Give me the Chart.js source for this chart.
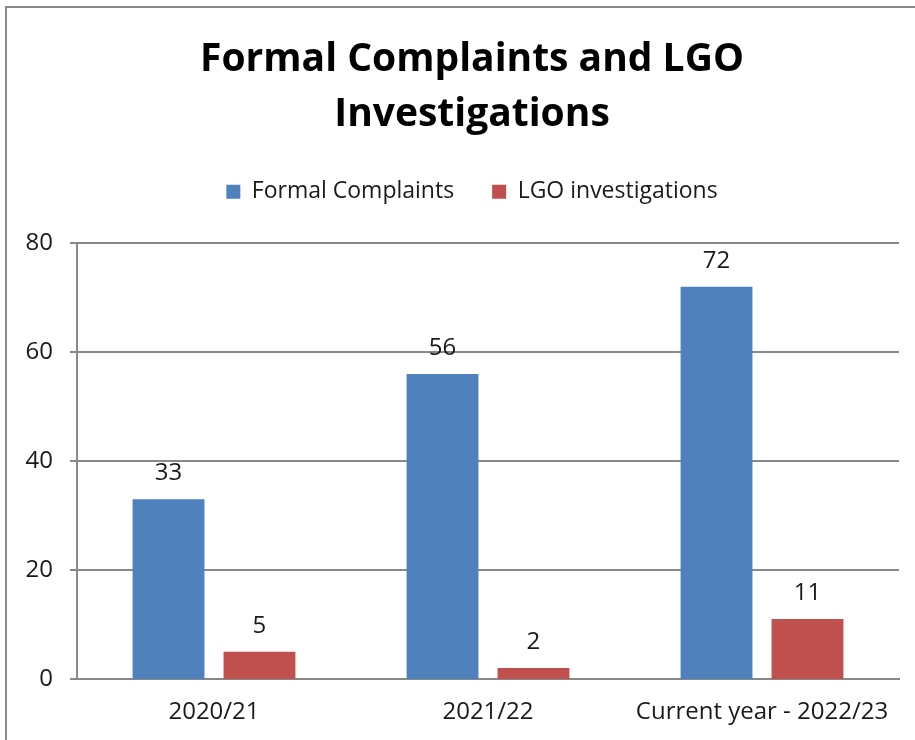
<!DOCTYPE html>
<html>
<head>
<meta charset="utf-8">
<title>Formal Complaints and LGO Investigations</title>
<script src="https://cdn.jsdelivr.net/npm/chart.js@4.4.0/dist/chart.umd.min.js"></script>
<style>
  html, body { margin: 0; padding: 0; background: #fff; overflow: hidden; }
  #frame {
    position: absolute; left: 5px; top: 6px; width: 1000px; height: 1000px;
    border: 2px solid #888; box-sizing: border-box;
  }
  /* canvas is a bit wider than the window so the title centres like the original */
  #chartBox { position: absolute; left: 0; top: 0; width: 944px; height: 740px; }
</style>
</head>
<body>
<div id="frame"></div>
<div id="chartBox"><canvas id="complaintsChart" width="944" height="740"></canvas></div>
<script>
"use strict";

const categories = ["2020/21", "2021/22", "Current year - 2022/23"];
const formalComplaints = [33, 56, 72];
const lgoInvestigations = [5, 2, 11];
const yTicks = [0, 20, 40, 60, 80];

const FONT = "'Open Sans', 'Noto Sans', sans-serif";
const GRID = "#888";
const TEXT = "#1a1a1a";

// value labels above bars
const barValues = {
  id: "barValues",
  afterDatasetsDraw(chart) {
    const ctx = chart.ctx;
    ctx.save();
    ctx.font = "24px " + FONT;
    ctx.fillStyle = TEXT;
    ctx.textAlign = "center";
    ctx.textBaseline = "middle";
    chart.data.datasets.forEach((ds, i) => {
      const meta = chart.getDatasetMeta(i);
      meta.data.forEach((bar, j) => {
        ctx.fillText(String(ds.data[j]), bar.x, bar.y - 26);
      });
    });
    ctx.restore();
  },
};

document.addEventListener("DOMContentLoaded", () => {
  const canvas = document.querySelector("canvas#complaintsChart");
  const chart = new Chart(canvas, {
    type: "bar",
    data: {
      labels: categories,
      datasets: [
        {
          label: "Formal Complaints",
          data: formalComplaints,
          backgroundColor: "#4F81BD",
        },
        {
          label: "LGO investigations",
          data: lgoInvestigations,
          backgroundColor: "#C0504D",
        },
      ],
    },
    options: {
      responsive: false,
      animation: false,
      categoryPercentage: 0.664,
      barPercentage: 0.79,
      layout: { padding: 0 },
      scales: {
        x: {
          grid: { display: false, drawTicks: false },
          border: { display: true, color: GRID, width: 2 },
          ticks: { color: TEXT, font: { family: FONT, size: 24 }, padding: 19, maxRotation: 0 },
          afterFit: (scale) => { scale.height = 61; },
        },
        // empty boxes: gap under the legend and room on the right
        spacerTop: {
          type: "category",
          position: "top",
          labels: categories,
          grid: { display: false, drawTicks: false },
          border: { display: false },
          ticks: { display: false },
          afterFit: (scale) => { scale.height = 30; },
        },
        spacerRight: {
          type: "linear",
          position: "right",
          grid: { display: false, drawTicks: false },
          border: { display: false },
          ticks: { display: false },
          afterFit: (scale) => { scale.width = 45; },
        },
        y: {
          min: yTicks[0],
          max: yTicks[yTicks.length - 1],
          afterBuildTicks: (scale) => { scale.ticks = yTicks.map((v) => ({ value: v })); },
          grid: { color: GRID, lineWidth: 2, tickLength: 7 },
          border: { display: true, color: GRID, width: 2 },
          ticks: { color: TEXT, font: { family: FONT, size: 24 }, padding: 17 },
          afterFit: (scale) => { scale.width = 77; },
        },
      },
      plugins: {
        title: {
          display: true,
          text: ["Formal Complaints and LGO", "Investigations"],
          color: "#000",
          font: { family: FONT, size: 39, weight: "bold", lineHeight: 1.4 },
          padding: { top: 33, bottom: 0 },
        },
        legend: {
          display: true,
          position: "top",
          labels: {
            color: TEXT,
            font: { family: FONT, size: 23 },
            boxWidth: 14,
            boxHeight: 14,
            padding: 38,
          },
        },
        tooltip: { enabled: false },
      },
    },
    plugins: [barValues],
  });
});
</script>
</body>
</html>
